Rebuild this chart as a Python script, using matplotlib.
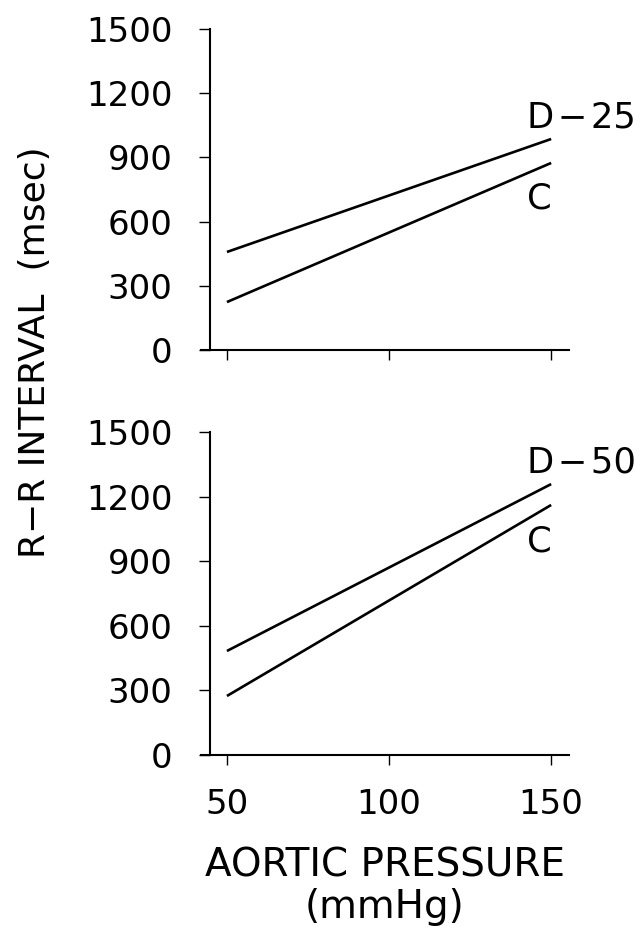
import matplotlib
matplotlib.use("Agg")
import matplotlib.pyplot as plt

plt.rcParams["font.family"] = ["DejaVu Sans"]

# data (R-R interval, msec, at aortic pressure 50 and 150 mmHg)
pressure = [50, 150]
top_d25 = [458, 986]
top_c = [224, 874]
bot_d50 = [483, 1258]
bot_c = [274, 1161]

x_ticks = [50, 100, 150]
y_ticks = [0, 300, 600, 900, 1200, 1500]

fig = plt.figure(figsize=(6.43, 9.33), dpi=100)
ax_top = fig.add_axes([0.3126, 0.6249, 0.5723, 0.3440])
ax_bot = fig.add_axes([0.3126, 0.1908, 0.5723, 0.3462])


def style(ax, show_xlabels):
    ax.set_xlim(42, 155.5)
    ax.set_ylim(0, 1500)
    ax.spines["top"].set_visible(False)
    ax.spines["right"].set_visible(False)
    ax.spines["left"].set_position(("data", 44.8))
    for sp in ["left", "bottom"]:
        ax.spines[sp].set_linewidth(1.5)
    ax.set_xticks(x_ticks)
    ax.set_yticks(y_ticks)
    ax.tick_params(axis="y", direction="out", length=8, width=1.0,
                   pad=19, labelsize=24.5)
    ax.tick_params(axis="x", direction="out", length=7, width=1.0,
                   pad=17, labelsize=24.5, labelbottom=show_xlabels)


for ax, upper, lower, name in [(ax_top, top_d25, top_c, "D\u200a\u2212\u200a25"),
                               (ax_bot, bot_d50, bot_c, "D\u200a\u2212\u200a50")]:
    ax.plot(pressure, upper, color="black", lw=1.9, solid_capstyle="butt")
    ax.plot(pressure, lower, color="black", lw=1.9, solid_capstyle="butt")
    ax.text(pressure[1] - 7.5, upper[1] + 55, name, fontsize=25.5,
            ha="left", va="baseline")
    ax.text(pressure[1] - 7.5, lower[1] - 215, "C", fontsize=25.5,
            ha="left", va="baseline")

style(ax_top, False)
style(ax_bot, True)

ax_bot.set_xlabel("AORTIC PRESSURE\n(mmHg)", fontsize=28, labelpad=18,
                  linespacing=1.12)
fig.text(0.054, 0.623, "R\u2212R INTERVAL  (msec)", rotation=90,
         fontsize=26, ha="center", va="center")

fig.savefig("out.png", dpi=100)
